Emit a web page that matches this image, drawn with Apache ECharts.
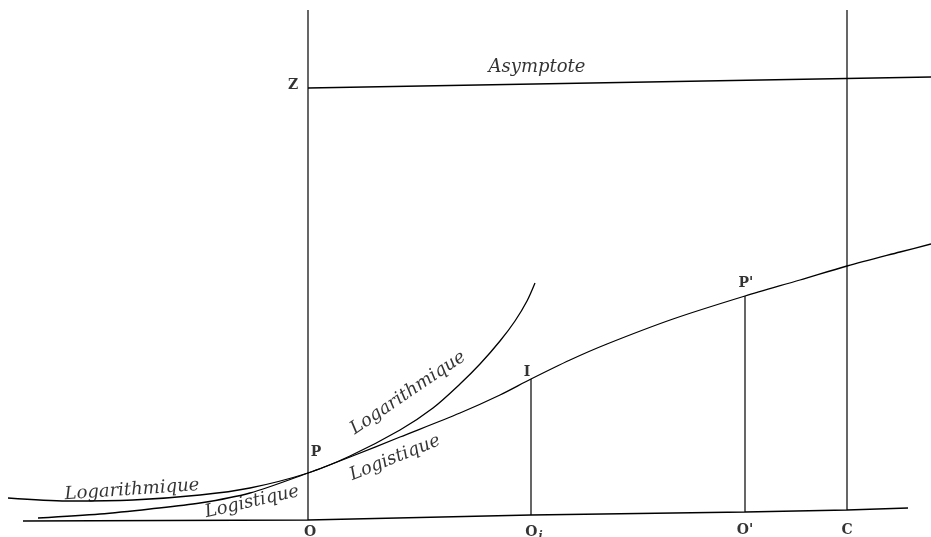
<!DOCTYPE html>
<html><head><meta charset="utf-8">
<script src="https://cdn.jsdelivr.net/npm/echarts@6/dist/echarts.min.js"></script>
<style>html,body{margin:0;padding:0;background:#fff}#c{width:931px;height:537px}</style>
</head><body><div id="c"></div>
<script>
// Diagram coordinates: origin at O, x to the right, y upward
const logistiqueX = [-270,-208,-158,-108,-58,0,42,92,152,192,223,262,299,365,437,492,539,592,623];
const logistiqueY = [2,6,11,17,27,47,63,83,107,125,141,160,176,201,224,240,254,268,276];
const logarithmiqueX = [-300,-241,-175,-108,-58,0,42,92,125,152,172,192,207,219,227];
const logarithmiqueY = [22,19,20,25,32,47,64,90,112,136,156,179,199,219,237];
const baselineX = [-285,0,223,437,539,600];
const baselineY = [-1,0,5,8,10,12];
const asymptoteX = [0,623];
const asymptoteY = [432,443];
// vertical segments: x, yBottom, yTop
const verticals = [[0,0,510],[539,10,510],[223,5,141],[437,8,224]];
// point labels
const pointNames = ['Z','P','I',"P'",'O','{a|O}{s|i}',"O'",'C'];
const pointX = [-15,8,219,438,2,226,437,539];
const pointY = [435,68,148,237,-12,-12,-10,-10];
// curve labels
const curveNames = ['Asymptote','Logarithmique','Logistique','Logarithmique','Logistique'];
const curveX = [229,100,87,-176,-56];
const curveY = [453,127,62,30,18];
const curveRot = [0,34,22,4,13];

const ink = '#000';
const pairs = (xs, ys) => xs.map((x,i)=>[x, ys[i]]);
const lineSeries = (data, smooth) => ({type:'line', data, smooth, symbol:'none', lineStyle:{color:ink,width:1.3}, silent:true, animation:false});

const series = [
  lineSeries(pairs(logistiqueX, logistiqueY), 0.3),
  lineSeries(pairs(logarithmiqueX, logarithmiqueY), 0.3),
  lineSeries(pairs(baselineX, baselineY), false),
  lineSeries(pairs(asymptoteX, asymptoteY), false),
];
verticals.forEach(v => series.push({type:'line', data:[[v[0],v[1]],[v[0],v[2]]], symbol:'none', lineStyle:{color:ink,width:1.2}, silent:true, animation:false}));
series.push({
  type:'scatter', symbolSize:0, animation:false, silent:true,
  data: pointNames.map((n,i)=>({value:[pointX[i],pointY[i]], name:n})),
  label:{show:true, position:'inside', formatter:p=>p.name, color:ink,
    fontFamily:'DejaVu Serif', fontWeight:'bold', fontSize:14,
    rich:{a:{fontFamily:'DejaVu Serif',fontWeight:'bold',fontSize:14,color:ink}, s:{fontFamily:'DejaVu Serif',fontStyle:'italic',fontSize:11,color:ink,padding:[8,0,0,1]}}}
});
series.push({
  type:'scatter', symbolSize:0, animation:false, silent:true,
  data: curveNames.map((n,i)=>({value:[curveX[i],curveY[i]], name:n, label:{rotate:curveRot[i]}})),
  label:{show:true, position:'inside', formatter:p=>p.name, color:ink,
    fontFamily:'DejaVu Serif', fontStyle:'italic', fontSize:18}
});

const chart = echarts.init(document.getElementById('c'), null, {renderer:'canvas'});
chart.setOption({
  backgroundColor:'#fff',
  animation:false,
  grid:{left:0,right:0,top:0,bottom:0},
  xAxis:{type:'value', min:-308, max:623, show:false},
  yAxis:{type:'value', min:-17, max:520, show:false},
  series
});
</script></body></html>
